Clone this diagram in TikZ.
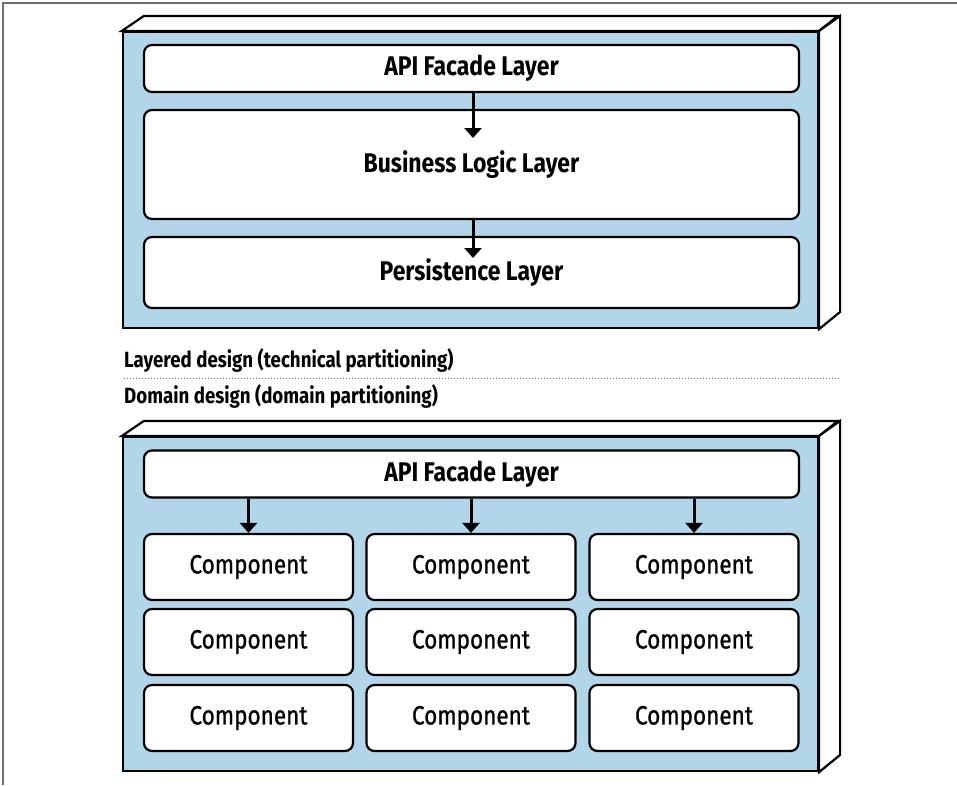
\documentclass[tikz,border=0pt]{standalone}
\usepackage{fontspec}
\setmainfont{Fira Sans}[FakeStretch=0.85]
\newfontfamily\compfont{Fira Sans}[FakeStretch=0.85, FakeBold=0.9]
\usetikzlibrary{arrows.meta}
\definecolor{boxblue}{RGB}{179,213,234}
\definecolor{framegray}{RGB}{110,110,110}
\tikzset{
  front/.style={draw=black, fill=boxblue, line width=2.2pt, inner sep=0pt},
  face/.style={draw=black, fill=white, line width=2.2pt, line join=miter},
  layerbox/.style={draw=black, fill=white, line width=2.2pt, rounded corners=8pt, inner sep=0pt, font=\fontsize{27}{30}\selectfont\bfseries},
  compbox/.style={draw=black, fill=white, line width=2.2pt, rounded corners=8pt, inner sep=0pt, minimum width=209pt, minimum height=66pt, font=\fontsize{26.5}{30}\compfont},
  arr/.style={-{Triangle[width=17pt,length=10pt]}, line width=3pt},
  caption/.style={anchor=west, inner sep=0pt, font=\fontsize{22}{26}\selectfont\bfseries},
}
\begin{document}
\begin{tikzpicture}[x=1pt,y=-1pt]
\useasboundingbox (0,0) rectangle (957,785);
% page frame
\draw[framegray, line width=1.5pt] (3,785) -- (3,3) -- (957,3);

% ---------- top: layered design ----------
\node[front, minimum width=695pt, minimum height=296pt] (f1) at (470.5,180) {};
\draw[face] (f1.north west) -- ++(22,-15) -- ++(694,0) -- (f1.north east) -- cycle;
\draw[face] (f1.north east) -- ++(21,-15) -- ++(0,296) -- (f1.south east) -- cycle;

\node[layerbox, minimum width=655pt, minimum height=47pt] (api1) at (471.5,68.5) {API Facade Layer};
\node[layerbox, minimum width=655pt, minimum height=109pt] (biz) at (471.5,164.5) {Business Logic Layer};
\node[layerbox, minimum width=655pt, minimum height=71pt] (pers) at (471.5,272.5) {Persistence Layer};
\coordinate (t1) at (473,138);
\coordinate (t2) at (473,258);
\draw[arr] (api1.south -| t1) -- (t1);
\draw[arr] (biz.south -| t2) -- (t2);

% ---------- captions ----------
\node[caption] (cap1) at (124,360) {Layered design (technical partitioning)};
\node[caption] (cap2) at (124,396) {Domain design (domain partitioning)};
\coordinate (dl) at (124,378);
\coordinate (dr) at (840,378);
\draw[framegray, line width=1pt, dotted] (dl) -- (dr);

% ---------- bottom: domain design ----------
\node[front, minimum width=695pt, minimum height=334pt] (f2) at (470.5,604) {};
\draw[face] (f2.north west) -- ++(22,-15) -- ++(694,0) -- (f2.north east) -- cycle;
\draw[face] (f2.north east) -- ++(21,-15) -- ++(0,334) -- (f2.south east) -- cycle;

\node[layerbox, minimum width=655pt, minimum height=47pt] (api2) at (471.5,474) {API Facade Layer};

\foreach \c/\x in {1/248.5, 2/471, 3/694} {
  \foreach \r/\y in {1/567, 2/642, 3/718} {
    \node[compbox] (c\r\c) at (\x,\y) {Component};
  }
  \draw[arr] (api2.south -| c1\c) -- (c1\c.north);
}
\end{tikzpicture}
\end{document}
